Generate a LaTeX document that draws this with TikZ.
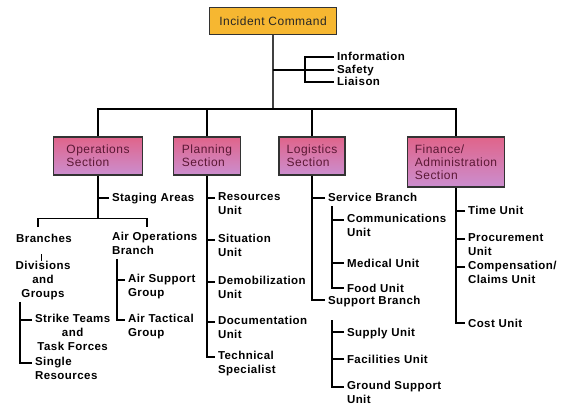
\documentclass[tikz,border=0pt]{standalone}
\usepackage{fontspec}
\setmainfont{Liberation Sans}[LetterSpace=4]
\definecolor{icfill}{HTML}{F6B731}
\definecolor{sectop}{HTML}{E0648A}
\definecolor{secbot}{HTML}{CB8ECF}
\definecolor{sectext}{HTML}{5B1835}
\begin{document}
\begin{tikzpicture}[x=1pt,y=-1pt,
    link/.style={line width=1.4pt},
    sec/.style={draw=black!80,line width=1.2pt,top color=sectop,bottom color=secbot,
      text=sectext,align=left,inner sep=0pt,minimum height=38pt,
      font=\fontsize{12}{13}\selectfont},
    unit/.style={anchor=north west,inner sep=0pt,outer xsep=3pt,align=left,
      font=\fontsize{11.5}{14}\selectfont\bfseries,execute at begin node=\strut}]

\useasboundingbox (0,0) rectangle (562,406);

\node[draw=black!80,line width=1.2pt,fill=icfill,minimum width=127pt,minimum height=27pt,
  font=\fontsize{12}{14}\selectfont,text=black!85] (ic) at (273,21) {Incident Command};

\node[sec,minimum width=89pt] (ops) at (98,156) {Operations\\Section};
\node[sec,minimum width=67pt] (pln) at (207,156) {Planning\\Section};
\node[sec,minimum width=66pt] (lgs) at (312,156) {Logistics\\Section};
\node[sec,minimum width=97pt,minimum height=50pt] (fin) at (456,162) {Finance/\\Administration\\Section};

\draw[link,black!75] (ic.south) -- ++(0,74) coordinate (bus);
\draw[link] (ops.north) |- (bus) -| (fin.north);
\draw[link] (pln.north) -- (pln.north |- bus);
\draw[link] (lgs.north) -- (lgs.north |- bus);

% command staff
\node[unit] (inf) at (334,51) {Information};
\node[unit] (saf) at (334,64) {Safety};
\node[unit] (lia) at (334,76) {Liaison};
\draw[link] ([yshift=-6pt]saf.north west) -- ++(-61,0);
\draw[link] ([yshift=-6pt]inf.north west) -- ++(-29,0) |- ([yshift=-6pt]lia.north west);

% operations
\draw[link] (ops.south) -- ++(0,43) coordinate (opsj);
\node[unit] (stg) at (109,192) {Staging Areas};
\draw[link] ([yshift=-6pt]stg.north west) -- ++(-11,0);
\node[unit,anchor=north,align=center,outer xsep=0pt] (brn) at (44,232) {Branches};
\node[unit] (aob) at (109,232) {Air Operations\\Branch};
\draw[link] ([xshift=-6pt,yshift=5pt]brn.north) |- (opsj) -| ([xshift=38pt,yshift=5pt]aob.north west);
\node[unit,anchor=north,align=center,outer xsep=0pt] (div) at (43,261) {Divisions\\and\\Groups};
\draw[line width=1pt,shorten <=8pt] ([xshift=-3pt]brn.south) -- ([xshift=-2pt]div.north);
\node[unit,align=center] (stk) at (32,314) {Strike Teams\\and\\Task Forces};
\node[unit] (sgl) at (32,357) {Single\\Resources};
\draw[link] ([xshift=-23pt]div.south) |- ([yshift=-6pt]sgl.north west);
\draw[link] ([yshift=-6pt]stk.north west) -- ++(-12,0);
\node[unit] (ats) at (125,274) {Air Support\\Group};
\node[unit] (atg) at (125,314) {Air Tactical\\Group};
\draw[link] ([xshift=8pt]aob.south west) |- ([yshift=-6pt]atg.north west);
\draw[link] ([yshift=-6pt]ats.north west) -- ++(-8,0);

% planning
\node[unit] (res) at (215,192) {Resources\\Unit};
\node[unit] (sit) at (215,234) {Situation\\Unit};
\node[unit] (dem) at (215,276) {Demobilization\\Unit};
\node[unit] (doc) at (215,316) {Documentation\\Unit};
\node[unit] (tec) at (215,351) {Technical\\Specialist};
\draw[link] (pln.south) |- ([yshift=-6pt]tec.north west);
\foreach \n in {res,sit,dem,doc}
  \draw[link] ([yshift=-6pt]\n.north west) -- ++(-8,0);

% logistics
\node[unit] (svc) at (325,192) {Service Branch};
\node[unit] (sup) at (325,294) {Support Branch};
\draw[link] (lgs.south) |- ([yshift=-6pt]sup.north west);
\draw[link] ([yshift=-6pt]svc.north west) -- ++(-13,0);
\node[unit] (com) at (344,214) {Communications\\Unit};
\node[unit] (med) at (344,257) {Medical Unit};
\node[unit] (fod) at (344,282) {Food Unit};
\draw[link] ([xshift=7pt]svc.south west) |- ([yshift=-6pt]fod.north west);
\foreach \n in {com,med}
  \draw[link] ([yshift=-6pt]\n.north west) -- ++(-12,0);
\node[unit] (spl) at (344,326) {Supply Unit};
\node[unit] (fac) at (344,353) {Facilities Unit};
\node[unit] (gsu) at (344,381) {Ground Support\\Unit};
\draw[link] ([xshift=7pt,yshift=-12pt]sup.south west) |- ([yshift=-6pt]gsu.north west);
\foreach \n in {spl,fac}
  \draw[link] ([yshift=-6pt]\n.north west) -- ++(-12,0);

% finance
\node[unit] (tim) at (465,205) {Time Unit};
\node[unit] (prc) at (465,233) {Procurement\\Unit};
\node[unit] (cmp) at (465,261) {Compensation/\\Claims Unit};
\node[unit] (cst) at (465,317) {Cost Unit};
\draw[link] (fin.south) |- ([yshift=-6pt]cst.north west);
\foreach \n in {tim,prc,cmp}
  \draw[link] ([yshift=-6pt]\n.north west) -- ++(-9,0);

\end{tikzpicture}
\end{document}
